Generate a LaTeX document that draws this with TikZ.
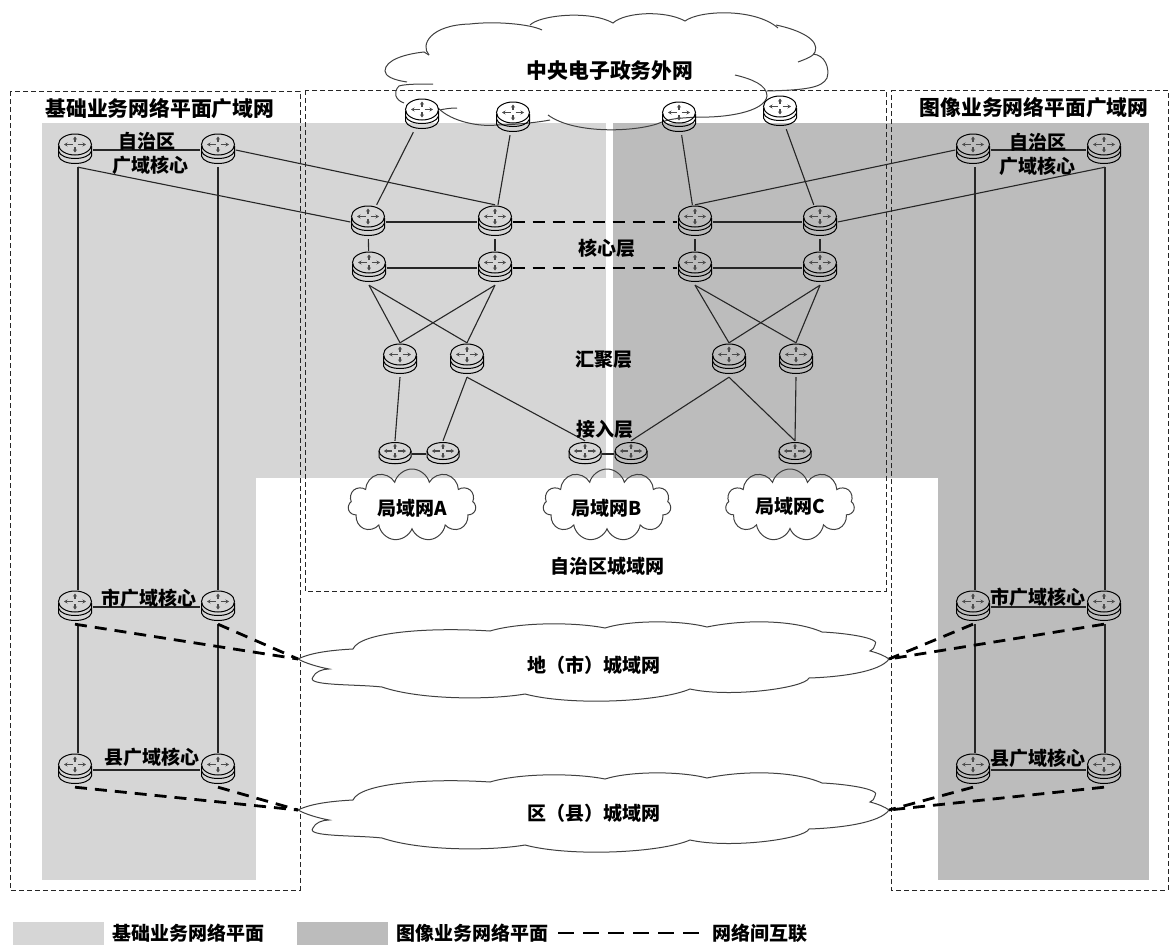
\documentclass[tikz,border=0pt]{standalone}
\usepackage{fontspec}
\setmainfont{Noto Sans CJK SC}
\usetikzlibrary{arrows.meta, positioning, shapes.symbols}
\definecolor{planeBase}{RGB}{214,214,214}
\definecolor{planeImage}{RGB}{188,188,188}
\newcommand{\routerface}{
  \draw[line width=1pt] (0,-5.5) ellipse [x radius=16.5, y radius=10.5];
  \draw[line width=1.2pt, black!70, -{Stealth[length=3.5pt,width=4pt]}] (-2.5,-5.5) -- (-11,-5.5);
  \draw[line width=1.2pt, black!70, -{Stealth[length=3.5pt,width=4pt]}] (2.5,-5.5) -- (11,-5.5);
  \draw[line width=1.2pt, black!70, -{Stealth[length=3pt,width=4pt]}] (0,-8) -- (0,-13.5);
  \draw[line width=1.2pt, black!70, -{Stealth[length=3pt,width=4pt]}] (0,-3) -- (0,2.5);
  \draw[line width=1pt] (-16.5,-4) -- (-16.5,1) .. controls (-14,11) and (14,11) .. (16.5,1) -- (16.5,-4);
  \draw[line width=1pt] (-16.5,1) -- (-16.5,6) .. controls (-14,16) and (14,16) .. (16.5,6) -- (16.5,1);
}
\newcommand{\accessface}{
  \draw[line width=1pt] (0,-3) ellipse [x radius=16, y radius=8.5];
  \draw[line width=1.2pt, black!70, -{Stealth[length=3pt,width=4pt]}] (-3,-3) -- (-11,-3);
  \draw[line width=1.2pt, black!70, -{Stealth[length=3pt,width=4pt]}] (3,-3) -- (11,-3);
  \draw[line width=1.2pt, black!70, -{Stealth[length=2.5pt,width=4pt]}] (0,-5) -- (0,-10);
  \draw[line width=1.2pt, black!70, -{Stealth[length=2.5pt,width=4pt]}] (0,-1) -- (0,4);
  \draw[line width=1pt] (-16,-3) -- (-16,3) .. controls (-14,12) and (14,12) .. (16,3) -- (16,-3);
}
\newcommand{\widecloud}{
  (298,659) .. controls (312,652) and (335,650) .. (353,649)
  .. controls (360,632) and (430,627) .. (490,631)
  .. controls (520,622) and (575,622) .. (605,628)
  .. controls (630,620) and (680,620) .. (707,627)
  .. controls (745,619) and (795,620) .. (822,632)
  .. controls (845,633) and (882,638) .. (875,645)
  .. controls (875,648) and (872,650) .. (870,651)
  .. controls (878,653) and (885,656) .. (889,659)
  .. controls (880,672) and (840,677) .. (809,678)
  .. controls (805,688) and (730,698) .. (690,689)
  .. controls (660,702) and (570,706) .. (525,694)
  .. controls (490,700) and (420,700) .. (382,687)
  .. controls (355,684) and (305,686) .. (313,677)
  .. controls (315,672) and (322,669) .. (329,669)
  .. controls (318,667) and (305,663) .. (298,659) -- cycle
}
\begin{document}
\begin{tikzpicture}[
    x=1pt, y=-1pt,
    router/.style={rectangle, inner sep=0pt, minimum width=35pt, minimum height=34pt,
      path picture={\routerface}},
    accessrouter/.style={rectangle, inner sep=0pt, minimum width=34pt, minimum height=26pt,
      path picture={\accessface}},
    wire/.style={line width=1.1pt, draw=black!85},
    interlink/.style={line width=2.8pt, dash pattern=on 12pt off 8pt, draw=black},
    boxline/.style={line width=0.9pt, dash pattern=on 5pt off 3pt, draw=black!85},
    outline/.style={draw=black!75, line width=1pt},
    netcloud/.style={cloud, outline, cloud ignores aspect, inner sep=0pt},
    lbl/.style={font=\fontsize{19}{21}\selectfont\bfseries, inner sep=0pt, text=black},
    biglbl/.style={lbl, font=\fontsize{20.8}{23}\selectfont\bfseries},
    swatch/.style={minimum width=91pt, minimum height=23pt, inner sep=0pt}
  ]
    \useasboundingbox (0,0) rectangle (1171,945);
    % planes
    \fill[planeBase] (42,123) rectangle (606,478);
    \fill[planeBase] (42,478) rectangle (256,880);
    \fill[planeImage] (613,123) rectangle (1149,478);
    \fill[planeImage] (938,478) rectangle (1149,880);
    % dashed frames
    \draw[boxline] (10,91) rectangle (300,890);
    \draw[boxline] (305,90) rectangle (886,591);
    \draw[boxline] (891,90) -- (1168,90) -- (1168,890) -- (891,890) -- cycle;
    % big cloud
    \draw[outline] (735,75) .. controls (752,79) and (767,85) .. (767,96)
      .. controls (765,112) and (725,118) .. (697,117)
      .. controls (685,118) and (672,118) .. (662,122)
      .. controls (640,132) and (575,135) .. (548,115);
    \draw[outline] (550,120) .. controls (540,122) and (515,125) .. (497,125)
      .. controls (480,127) and (452,122) .. (438,108);
    \draw[outline] (457,108) .. controls (450,108) and (444,109) .. (440,110);
    \draw[outline] (433,84) .. controls (420,84) and (405,84) .. (399,86)
      .. controls (393,92) and (395,100) .. (404,103);
    \draw[outline] (407,82) .. controls (393,80) and (385,76) .. (385,71)
      .. controls (385,60) and (405,54) .. (424,52) -- (429,55);
    \draw[outline] (429,55) .. controls (420,45) and (430,25) .. (470,24)
      .. controls (495,21) and (530,24) .. (542,30);
    \draw[outline] (530,25) .. controls (540,15) and (590,10) .. (613,23)
      .. controls (625,12) and (665,10) .. (685,21)
      .. controls (700,10) and (755,8) .. (778,28);
    \draw[outline] (776,25) .. controls (800,30) and (820,40) .. (815,52)
      .. controls (814,56) and (806,59) .. (798,62);
    \draw[outline] (813,54) .. controls (825,55) and (830,68) .. (827,78)
      .. controls (822,88) and (805,90) .. (767,91);
    % lan clouds
    \node[netcloud, cloud puffs=11, minimum width=128pt, minimum height=72pt] (lanA) at (412,505) {};
    \node[netcloud, cloud puffs=11, minimum width=128pt, minimum height=72pt] (lanB) at (607,505) {};
    \node[netcloud, cloud puffs=11, minimum width=129pt, minimum height=72pt] (lanC) at (790,505) {};
    % city and county clouds
    \draw[outline, fill=white] \widecloud;
    \draw[outline, fill=white, yshift=-151pt] \widecloud;
    \coordinate (cityTipL) at (298,659);
    \coordinate (cityTipR) at (889,659);
    \coordinate (cntyTipL) at (298,810);
    \coordinate (cntyTipR) at (889,810);
    % routers, wan planes
    \node[router] (wanL1) at (75,150) {};
    \node[router] (wanL2) at (218,150) {};
    \node[router] (cityL1) at (75,607) {};
    \node[router] (cityL2) at (218,607) {};
    \node[router] (cntyL1) at (75,770) {};
    \node[router] (cntyL2) at (218,770) {};
    \node[router] (wanR1) at (973,150) {};
    \node[router] (wanR2) at (1104,150) {};
    \node[router] (cityR1) at (973,607) {};
    \node[router] (cityR2) at (1104,607) {};
    \node[router] (cntyR1) at (973,770) {};
    \node[router] (cntyR2) at (1104,770) {};
    % routers, metro network
    \node[router] (top1) at (422,115) {};
    \node[router] (top2) at (513,118) {};
    \node[router] (top3) at (679,118) {};
    \node[router] (top4) at (780,112) {};
    \node[router] (coreA1) at (368,222) {};
    \node[router] (coreA2) at (495,222) {};
    \node[router] (coreA3) at (695,222) {};
    \node[router] (coreA4) at (820,222) {};
    \node[router] (coreB1) at (369,268) {};
    \node[router] (coreB2) at (495,268) {};
    \node[router] (coreB3) at (695,268) {};
    \node[router] (coreB4) at (820,268) {};
    \node[router] (agg1) at (400,360) {};
    \node[router] (agg2) at (467,360) {};
    \node[router] (agg3) at (729,360) {};
    \node[router] (agg4) at (796,360) {};
    \node[accessrouter] (acc1) at (395,454) {};
    \node[accessrouter] (acc2) at (443,454) {};
    \node[accessrouter] (acc3) at (585,454) {};
    \node[accessrouter] (acc4) at (631,454) {};
    \node[accessrouter] (acc5) at (795,454) {};
    % wan links
    \draw[wire] (wanL1) -- (wanL2);
    \draw[wire] (cityL1) -- (cityL2);
    \draw[wire] (cntyL1) -- (cntyL2);
    \draw[wire] (wanR1) -- (wanR2);
    \draw[wire] (cityR1) -- (cityR2);
    \draw[wire] (cntyR1) -- (cntyR2);
    \draw[wire] ([xshift=3pt]wanL1.south) -- ([xshift=3pt]cityL1.north);
    \draw[wire] ([xshift=3pt]cityL1.south) -- ([xshift=3pt]cntyL1.north);
    \draw[wire] (wanL2.south) -- (cityL2) -- (cntyL2);
    \draw[wire] ([xshift=2pt]wanR1.south) -- ([xshift=2pt]cityR1.north);
    \draw[wire] ([xshift=2pt]cityR1.south) -- ([xshift=2pt]cntyR1.north);
    \draw[wire] ([xshift=1pt]wanR2.south) -- ([xshift=1pt]cityR2.north);
    \draw[wire] ([xshift=1pt]cityR2.south) -- ([xshift=1pt]cntyR2.north);
    \draw[wire] ([xshift=3pt]wanL1.south) -- (coreA1.west);
    \draw[wire] (wanL2.east) -- (coreA2.north);
    \draw[wire] (wanR1.west) -- (coreA3.north);
    \draw[wire] ([xshift=1pt]wanR2.south) -- (coreA4.east);
    % core links
    \draw[wire] (top1) -- (coreA1);
    \draw[wire] (top2) -- (coreA2);
    \draw[wire] (top3) -- (coreA3);
    \draw[wire] (top4) -- (coreA4);
    \draw[wire] (coreA1) -- (coreA2);
    \draw[wire] (coreB1) -- (coreB2);
    \draw[wire] (coreA3) -- (coreA4);
    \draw[wire] (coreB3) -- (coreB4);
    \draw[wire] (coreA1) -- (coreB1);
    \draw[wire] (coreA2) -- (coreB2);
    \draw[wire] (coreA3) -- (coreB3);
    \draw[wire] (coreA4) -- (coreB4);
    \draw[interlink] (coreA2) -- (coreA3);
    \draw[interlink] (coreB2) -- (coreB3);
    % aggregation links
    \draw[wire] (coreB1.south) -- (agg1.north);
    \draw[wire] (coreB1.south) -- (agg2.north);
    \draw[wire] (coreB2.south) -- (agg1.north);
    \draw[wire] (coreB2.south) -- (agg2.north);
    \draw[wire] (coreB3.south) -- (agg3.north);
    \draw[wire] (coreB3.south) -- (agg4.north);
    \draw[wire] (coreB4.south) -- (agg3.north);
    \draw[wire] (coreB4.south) -- (agg4.north);
    % access links
    \draw[wire] (agg1.south) -- (acc1.north);
    \draw[wire] (agg2.south) -- (acc2.north);
    \draw[wire] (agg2.south) -- (acc3.north);
    \draw[wire] (agg3.south) -- (acc4.north);
    \draw[wire] (agg3.south) -- (acc5.north);
    \draw[wire] (agg4.south) -- (acc5.north);
    \draw[wire] (acc1) -- (acc2);
    \draw[wire] (acc3) -- (acc4);
    % links to city and county networks
    \draw[interlink] (cityL1.south) -- (cityTipL);
    \draw[interlink] (cityL2.south) -- (cityTipL);
    \draw[interlink] (cntyL1.south) -- (cntyTipL);
    \draw[interlink] (cntyL2.south) -- (cntyTipL);
    \draw[interlink] (cityR1.south) -- (cityTipR);
    \draw[interlink] (cityR2.south) -- (cityTipR);
    \draw[interlink] (cntyR1.south) -- (cntyTipR);
    \draw[interlink] (cntyR2.south) -- (cntyTipR);
    % labels
    \node[biglbl] (titleTop) at (610,71) {中央电子政务外网};
    \node[biglbl] (titleL) at (160,109) {基础业务网络平面广域网};
    \node[biglbl] (titleR) at (1034,108) {图像业务网络平面广域网};
    \node[lbl] (wanLa) at (147,141) {自治区};
    \node[lbl] (wanLb) at (150,165) {广域核心};
    \node[lbl] (wanRa) at (1038,142) {自治区};
    \node[lbl] (wanRb) at (1037,166) {广域核心};
    \node[lbl] (cityLa) at (149,598) {市广域核心};
    \node[lbl] (cntyLa) at (152,757) {县广域核心};
    \node[lbl] (cityRa) at (1038,597) {市广域核心};
    \node[lbl] (cntyRa) at (1038,758) {县广域核心};
    \node[lbl] (coreLbl) at (607,248) {核心层};
    \node[lbl] (aggLbl) at (604,360) {汇聚层};
    \node[lbl] (accLbl) at (605,429) {接入层};
    \node[lbl] (lanAlbl) at (412,508) {局域网A};
    \node[lbl] (lanBlbl) at (607,508) {局域网B};
    \node[lbl] (lanClbl) at (790,506) {局域网C};
    \node[lbl] (metroLbl) at (607,566) {自治区城域网};
    \node[lbl] (cityLbl) at (594,665) {地（市）城域网};
    \node[lbl] (cntyLbl) at (594,813) {区（县）城域网};
    % legend
    \node[swatch, fill=planeBase] (keyBase) at (58,933) {};
    \node[lbl, right=9pt of keyBase] (keyBaseLbl) {基础业务网络平面};
    \node[swatch, fill=planeImage] (keyImage) at (342,933) {};
    \node[lbl, right=9pt of keyImage] (keyImageLbl) {图像业务网络平面};
    \coordinate (keyDashA) at (558,933);
    \coordinate (keyDashB) at (702,933);
    \node[lbl] (keyDashLbl) at (760,933) {网络间互联};
    \draw[interlink, dash pattern=on 16pt off 9pt] (keyDashA) -- (keyDashB);
  \end{tikzpicture}
\end{document}
